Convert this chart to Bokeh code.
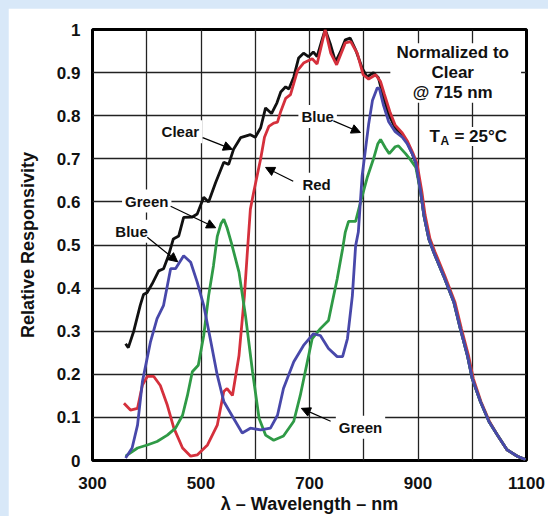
from bokeh.plotting import figure
from bokeh.layouts import column
from bokeh.models import Range1d, FixedTicker, CustomJSTickFormatter, Label, Arrow, NormalHead, BoxAnnotation
from bokeh.embed import file_html
from bokeh.resources import INLINE

# ---- data ----
clear_x = [361, 366, 376, 388, 394, 401, 410, 422, 431, 440, 449, 459, 468, 484, 493, 505, 514, 527,
           542, 551, 560, 573, 591, 600, 610, 619, 630, 640, 647, 656, 662, 671, 680, 689, 698, 707,
           714, 724, 729, 739, 748, 757, 766, 775, 785, 797, 806, 818, 827, 836, 846, 858, 871, 880,
           890, 896, 905, 911, 920, 929, 947, 966, 978, 991, 1000, 1015, 1031, 1046, 1064, 1083, 1098]
clear_y = [0.271, 0.262, 0.30, 0.36, 0.385, 0.39, 0.41, 0.44, 0.445, 0.475, 0.514, 0.521, 0.564, 0.565,
           0.572, 0.611, 0.60, 0.645, 0.692, 0.687, 0.722, 0.749, 0.756, 0.75, 0.772, 0.818, 0.805, 0.83,
           0.855, 0.867, 0.862, 0.89, 0.934, 0.945, 0.937, 0.948, 0.937, 0.98, 1.0, 0.964, 0.925, 0.948,
           0.976, 0.98, 0.953, 0.911, 0.89, 0.90, 0.888, 0.844, 0.803, 0.772, 0.756, 0.738, 0.71, 0.69,
           0.622, 0.568, 0.514, 0.483, 0.429, 0.368, 0.306, 0.244, 0.19, 0.137, 0.09, 0.06, 0.025, 0.01, 0.002]

red_x = [358, 370, 383, 392, 401, 413, 425, 438, 450, 466, 481, 493, 512, 530, 542, 548, 558, 570, 580,
         585, 591, 597, 610, 617, 625, 634, 641, 647, 656, 665, 678, 689, 705, 714, 729, 739, 750, 766,
         776, 788, 799, 809, 822, 831, 838, 848, 858, 871, 880, 890, 898, 907, 913, 922, 931, 949, 968,
         980, 993, 1002, 1016, 1032, 1046, 1064, 1083, 1098]
red_y = [0.133, 0.117, 0.121, 0.175, 0.195, 0.195, 0.174, 0.128, 0.075, 0.029, 0.010, 0.013, 0.036, 0.082,
         0.16, 0.167, 0.151, 0.243, 0.382, 0.475, 0.583, 0.622, 0.70, 0.75, 0.775, 0.783, 0.785, 0.81, 0.84,
         0.849, 0.905, 0.922, 0.932, 0.92, 1.0, 0.946, 0.918, 0.969, 0.972, 0.945, 0.895, 0.885, 0.895,
         0.879, 0.85, 0.81, 0.778, 0.76, 0.742, 0.715, 0.69, 0.625, 0.57, 0.515, 0.485, 0.43, 0.368, 0.306,
         0.244, 0.19, 0.137, 0.09, 0.06, 0.025, 0.01, 0.002]

green_x = [361, 383, 401, 419, 438, 453, 466, 475, 484, 495, 505, 514, 523, 530, 537, 542, 548, 556, 570,
           582, 595, 607, 619, 634, 652, 671, 683, 696, 705, 720, 735, 742, 751, 761, 766, 772, 785, 794,
           807, 818, 826, 831, 840, 847, 858, 864, 877, 886, 896, 905, 911, 920, 929, 947, 966, 978, 991,
           1000, 1015, 1031, 1046, 1064, 1083, 1098]
green_y = [0.01, 0.029, 0.036, 0.044, 0.059, 0.075, 0.105, 0.151, 0.206, 0.221, 0.29, 0.382, 0.452, 0.52,
           0.55, 0.56, 0.54, 0.505, 0.437, 0.336, 0.206, 0.098, 0.059, 0.047, 0.057, 0.091, 0.151, 0.229,
           0.283, 0.306, 0.325, 0.367, 0.421, 0.491, 0.53, 0.555, 0.555, 0.599, 0.659, 0.70, 0.735, 0.745,
           0.725, 0.712, 0.728, 0.73, 0.712, 0.698, 0.68, 0.622, 0.568, 0.514, 0.483, 0.429, 0.368, 0.306,
           0.244, 0.19, 0.137, 0.09, 0.06, 0.025, 0.01, 0.002]

blue_x = [361, 373, 383, 392, 407, 419, 431, 444, 453, 468, 481, 493, 505, 517, 530, 542, 560, 576, 591,
          610, 628, 641, 652, 671, 689, 707, 720, 735, 751, 761, 770, 779, 785, 790, 797, 803, 809, 816,
          825, 829, 836, 846, 858, 871, 880, 890, 896, 905, 911, 920, 929, 947, 966, 978, 991, 1000, 1015,
          1031, 1046, 1064, 1083, 1098]
blue_y = [0.006, 0.029, 0.082, 0.183, 0.276, 0.329, 0.36, 0.445, 0.445, 0.475, 0.46, 0.414, 0.36, 0.283,
          0.198, 0.137, 0.098, 0.064, 0.075, 0.071, 0.075, 0.105, 0.167, 0.229, 0.267, 0.294, 0.29, 0.26,
          0.241, 0.241, 0.283, 0.382, 0.498, 0.53, 0.66, 0.72, 0.78, 0.835, 0.865, 0.862, 0.826, 0.786,
          0.763, 0.75, 0.735, 0.71, 0.69, 0.622, 0.568, 0.514, 0.483, 0.429, 0.368, 0.306, 0.244, 0.19,
          0.137, 0.09, 0.06, 0.025, 0.01, 0.002]

x_ticks = [300, 400, 500, 600, 700, 800, 900, 1000, 1100]
y_ticks = [0, 0.1, 0.2, 0.3, 0.4, 0.5, 0.6, 0.7, 0.8, 0.9, 1.0]

FONT = "Liberation Sans"

p = figure(width=540, height=508, output_backend="svg", toolbar_location=None,
           x_range=Range1d(300, 1100), y_range=Range1d(0, 1),
           min_border_left=84, min_border_right=22, min_border_top=21, min_border_bottom=54)
p.margin = (8, 0, 0, 8)
p.background_fill_color = "white"
p.border_fill_color = "white"
p.outline_line_color = "black"
p.outline_line_width = 3

p.xaxis.ticker = FixedTicker(ticks=x_ticks)
p.yaxis.ticker = FixedTicker(ticks=y_ticks)
p.xaxis.formatter = CustomJSTickFormatter(code="var t=Math.round(tick); return (t % 200 == 100) ? String(t) : '';")
p.yaxis.formatter = CustomJSTickFormatter(code="if (Math.abs(tick)<1e-9) return '0'; if (Math.abs(tick-1)<1e-9) return '1'; return tick.toFixed(1);")

for ax in (p.xaxis, p.yaxis):
    ax.axis_line_color = None
    ax.major_tick_line_color = None
    ax.minor_tick_line_color = None
    ax.major_label_text_font = FONT
    ax.major_label_text_font_style = "bold"
    ax.major_label_text_font_size = "17px"
    ax.major_label_text_color = "#111111"
    ax.axis_label_text_font = FONT
    ax.axis_label_text_font_style = "bold"
    ax.axis_label_text_font_size = "18px"
    ax.axis_label_text_color = "#111111"
p.xaxis.major_label_standoff = 10
p.yaxis.major_label_standoff = 6
p.xaxis.axis_label = "λ – Wavelength – nm"
p.yaxis.axis_label = "Relative Responsivity"
p.xaxis.axis_label_standoff = 2
p.yaxis.axis_label_standoff = 16

p.grid.grid_line_color = "#222222"
p.grid.grid_line_width = 1.3

p.line(clear_x, clear_y, line_color="#111111", line_width=2.8)
p.line(red_x, red_y, line_color="#d5303c", line_width=2.8)
p.line(green_x, green_y, line_color="#2f9a46", line_width=2.8)
p.line(blue_x, blue_y, line_color="#4848aa", line_width=2.8)

# white knock-out behind the note block
p.add_layout(BoxAnnotation(left=849, right=1090, bottom=0.83, top=0.968,
                           fill_color="white", fill_alpha=1.0, line_color=None))

def lab(x, y, text, size="15px", align="center", xo=0, yo=0, bg="white", pad=3):
    p.add_layout(Label(x=x, y=y, text=text, text_align=align, text_baseline="middle",
                       x_offset=xo, y_offset=yo, padding=pad,
                       text_font=FONT, text_font_style="bold", text_font_size=size,
                       text_color="#111111", background_fill_color=bg))

def arr(x0, y0, x1, y1):
    p.add_layout(Arrow(end=NormalHead(size=9, fill_color="black", line_color="black"),
                       x_start=x0, y_start=y0, x_end=x1, y_end=y1,
                       line_color="black", line_width=1.2))

lab(462, 0.763, "Clear")
arr(503, 0.749, 558, 0.722)
lab(400, 0.602, "Green")
arr(444, 0.590, 527, 0.540)
lab(372, 0.532, "Blue")
arr(401, 0.518, 457, 0.461)
lab(713, 0.641, "Red")
arr(670, 0.648, 619, 0.680)
lab(715, 0.798, "Blue")
arr(744, 0.788, 794, 0.761)
lab(794, 0.077, "Green")
arr(739, 0.091, 685, 0.121)

lab(964, 0.946, "Normalized to", size="17px", bg=None, pad=0)
lab(964, 0.900, "Clear", size="17px", bg=None, pad=0)
lab(964, 0.853, "@ 715 nm", size="17px", bg=None, pad=0)

lab(921, 0.752, "T", size="17px", align="left", pad=0)
lab(921, 0.752, "A", size="12px", align="left", xo=11, yo=-5, bg=None, pad=0)
lab(921, 0.752, "= 25°C", size="17px", align="left", xo=25, pad=0)

page = column(p, styles={"background-color": "#d8e8f8"})
open("out.html", "w").write(file_html(page, INLINE))
